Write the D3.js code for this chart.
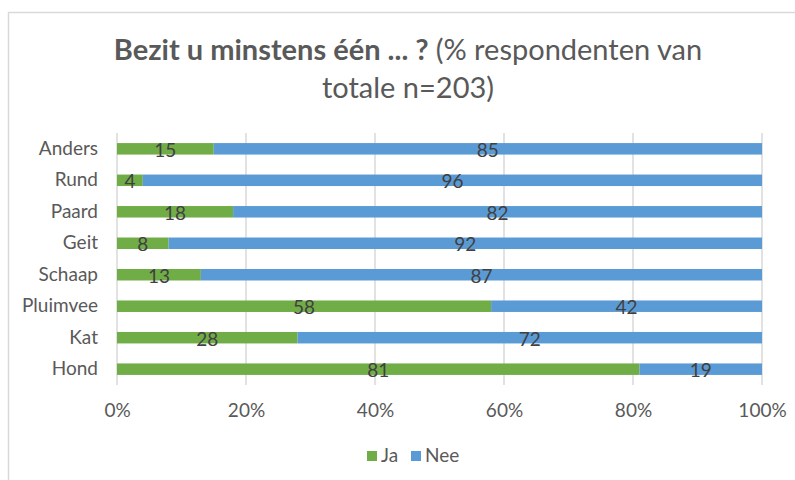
<!DOCTYPE html>
<html>
<head>
<meta charset="utf-8">
<script src="https://cdn.jsdelivr.net/npm/d3@7"></script>
<style>
  body { margin: 0; background: #fff; }
  svg { display: block; font-family: Lato, "Open Sans", sans-serif; }
</style>
</head>
<body>
<div id="container"></div>
<script>
let w = 795;
let h = 480;

// data
let categories = ["Anders", "Rund", "Paard", "Geit", "Schaap", "Pluimvee", "Kat", "Hond"];
let jaValues  = [15, 4, 18, 8, 13, 58, 28, 81];
let neeValues = [85, 96, 82, 92, 87, 42, 72, 19];
let seriesNames = ["Ja", "Nee"];
let seriesColors = ["#70AD47", "#5B9BD5"];
let tickValues = [0, 20, 40, 60, 80, 100];

let viz = d3.select("#container")
  .append("svg")
    .attr("width", w)
    .attr("height", h)
;

// chart frame
viz.append("rect")
  .attr("x", 8.5).attr("y", 12.5)
  .attr("width", 800).attr("height", 500)
  .attr("fill", "white")
  .attr("stroke", "#d9d9d9")
  .attr("stroke-width", 1.5)
;

// title
let title = viz.append("text")
  .attr("text-anchor", "middle")
  .attr("fill", "#595959")
  .style("font-size", "29px")
;
let line1 = title.append("tspan").attr("x", 408).attr("y", 60);
line1.append("tspan").attr("font-weight", "bold").text("Bezit u minstens één ... ? ");
line1.append("tspan").text("(% respondenten van");
title.append("tspan").attr("x", 408).attr("y", 98).text("totale n=203)");

// scales
let xScale = d3.scaleLinear().domain([0, 100]).range([117, 762]);
let yScale = d3.scaleBand().domain(categories).range([133, 385]).paddingInner(0.635).paddingOuter(0.32);

// gridlines
viz.append("g").selectAll("line").data(tickValues).enter()
  .append("line")
    .attr("x1", d => xScale(d)).attr("x2", d => xScale(d))
    .attr("y1", 133).attr("y2", 385)
    .attr("stroke", "#d9d9d9")
    .attr("stroke-width", 1.5)
;

// stacked data
let rows = categories.map((c, i) => ({ cat: c, Ja: jaValues[i], Nee: neeValues[i] }));
let stacked = d3.stack().keys(seriesNames)(rows);

let layers = viz.selectAll(".layer").data(stacked).enter()
  .append("g")
    .attr("class", "layer")
    .attr("fill", (d, i) => seriesColors[i])
;

layers.selectAll("rect").data(d => d).enter()
  .append("rect")
    .attr("x", d => xScale(d[0]))
    .attr("y", d => yScale(d.data.cat))
    .attr("width", d => xScale(d[1]) - xScale(d[0]))
    .attr("height", yScale.bandwidth())
;

// data labels
layers.selectAll("text").data(d => d).enter()
  .append("text")
    .attr("x", d => (xScale(d[0]) + xScale(d[1])) / 2)
    .attr("y", d => yScale(d.data.cat) + yScale.bandwidth() / 2 + 8)
    .attr("text-anchor", "middle")
    .attr("fill", "#404040")
    .style("font-size", "19px")
    .text(d => d[1] - d[0])
;

// category axis
let yAxis = d3.axisLeft(yScale).tickSize(0).tickPadding(0);
let yg = viz.append("g").attr("transform", "translate(98,0)").call(yAxis);
yg.select(".domain").remove();
yg.selectAll("text").attr("fill", "#595959").style("font-size", "19px").attr("font-family", "Lato, sans-serif");

// value axis
let xAxis = d3.axisBottom(xScale).tickValues(tickValues).tickSize(0).tickPadding(0).tickFormat(d => d + "%");
let xg = viz.append("g").attr("transform", "translate(0,403)").call(xAxis);
xg.select(".domain").remove();
xg.selectAll("text").attr("fill", "#595959").style("font-size", "19px").attr("font-family", "Lato, sans-serif");

// legend
let legendX = [367, 411];
let legend = viz.selectAll(".legend").data(seriesNames).enter()
  .append("g")
    .attr("class", "legend")
    .attr("transform", (d, i) => "translate(" + legendX[i] + ",451)")
;
legend.append("rect").attr("width", 10).attr("height", 10).attr("fill", (d, i) => seriesColors[i]);
legend.append("text")
  .attr("x", 14).attr("y", 11)
  .attr("fill", "#595959")
  .style("font-size", "19px")
  .text(d => d)
;
</script>
</body>
</html>
